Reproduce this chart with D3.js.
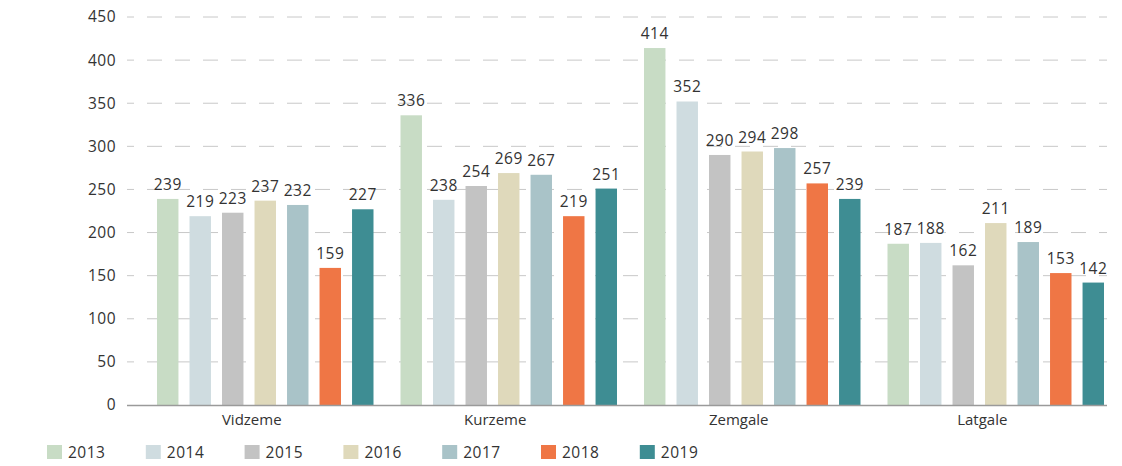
<!DOCTYPE html>
<html>
<head>
<meta charset="utf-8">
<script src="https://cdn.jsdelivr.net/npm/d3@7"></script>
<style>
  html, body { margin: 0; padding: 0; background: #fff; }
  svg { display: block; font-family: "Open Sans", sans-serif; }
</style>
</head>
<body>
<svg id="chart" width="1122" height="466"></svg>
<script>
// Regions and reporting years
const regions = ["Vidzeme", "Kurzeme", "Zemgale", "Latgale"];
const years = ["2013", "2014", "2015", "2016", "2017", "2018", "2019"];

// Values per year, in region order
const v2013 = [239, 336, 414, 187];
const v2014 = [219, 238, 352, 188];
const v2015 = [223, 254, 290, 162];
const v2016 = [237, 269, 294, 211];
const v2017 = [232, 267, 298, 189];
const v2018 = [159, 219, 257, 153];
const v2019 = [227, 251, 239, 142];

const yTicks = [0, 50, 100, 150, 200, 250, 300, 350, 400, 450];
const colors = ["#c8dcc5", "#cfdce0", "#c3c3c3", "#dfd9bb", "#a9c3c8", "#ef7645", "#3e8d93"];

const seriesValues = [v2013, v2014, v2015, v2016, v2017, v2018, v2019];

const svg = d3.select("#chart");
const plotLeft = 127, plotRight = 1107;
const y = d3.scaleLinear().domain([0, 450]).range([405, 17]);

const x0 = d3.scaleBand().domain(regions).range([130, 1104]);
const x1 = d3.scaleBand().domain(years).range([27, x0.bandwidth()]).paddingInner(0.34);
const color = d3.scaleOrdinal().domain(years).range(colors);

// Dashed gridlines
svg.append("g")
  .selectAll("line")
  .data(yTicks.filter(d => d > 0))
  .join("line")
  .attr("x1", plotLeft).attr("x2", plotRight)
  .attr("y1", d => y(d)).attr("y2", d => y(d))
  .attr("stroke", "#c8c8c8")
  .attr("stroke-width", 1)
  .attr("stroke-dasharray", "15,13")
  .attr("stroke-dashoffset", 8);

// Y axis labels
const yAxis = d3.axisLeft(y).tickValues(yTicks).tickSize(0).tickPadding(0);
const yg = svg.append("g").attr("transform", `translate(116,0)`).call(yAxis);
yg.select(".domain").remove();
yg.selectAll("text")
  .attr("font-family", "Open Sans, sans-serif")
  .attr("font-size", 15.5)
  .attr("letter-spacing", 0.5)
  .attr("fill", "#333");

// Bars
const groups = svg.append("g")
  .selectAll("g")
  .data(regions)
  .join("g")
  .attr("transform", d => `translate(${x0(d)},0)`);

const cells = (r, ri) => years.map((yr, yi) => ({ region: r, year: yr, value: seriesValues[yi][ri] }));

groups.selectAll("rect")
  .data(r => cells(r, regions.indexOf(r)))
  .join("rect")
  .attr("x", d => x1(d.year))
  .attr("width", x1.bandwidth())
  .attr("y", d => y(d.value))
  .attr("height", d => y(0) - y(d.value))
  .attr("fill", d => color(d.year));

groups.selectAll("text.val")
  .data(r => cells(r, regions.indexOf(r)))
  .join("text")
  .attr("class", "val")
  .attr("x", d => x1(d.year) + x1.bandwidth() / 2)
  .attr("y", d => y(d.value) - 9)
  .attr("text-anchor", "middle")
  .attr("font-size", 15.5)
  .attr("letter-spacing", 0.5)
  .attr("fill", "#333")
  .text(d => d.value);

// Baseline
svg.append("line")
  .attr("x1", plotLeft).attr("x2", plotRight)
  .attr("y1", y(0) + 0.5).attr("y2", y(0) + 0.5)
  .attr("stroke", "#9a9a9a").attr("stroke-width", 1.5);

// Region labels
const xAxis = d3.axisBottom(x0).tickSize(0).tickPadding(0);
const xg = svg.append("g").attr("transform", `translate(0,414)`).call(xAxis);
xg.select(".domain").remove();
xg.selectAll("text")
  .attr("font-family", "Open Sans, sans-serif")
  .attr("font-size", 15)
  .attr("fill", "#333");

// Legend
const legend = svg.append("g")
  .selectAll("g")
  .data(years)
  .join("g")
  .attr("transform", (d, i) => `translate(${47 + i * 98.8},445)`);
legend.append("rect")
  .attr("width", 15).attr("height", 14)
  .attr("fill", d => color(d));
legend.append("text")
  .attr("x", 21).attr("y", 13)
  .attr("font-size", 15.5)
  .attr("letter-spacing", 0.5)
  .attr("fill", "#333")
  .text(d => d);
</script>
</body>
</html>
